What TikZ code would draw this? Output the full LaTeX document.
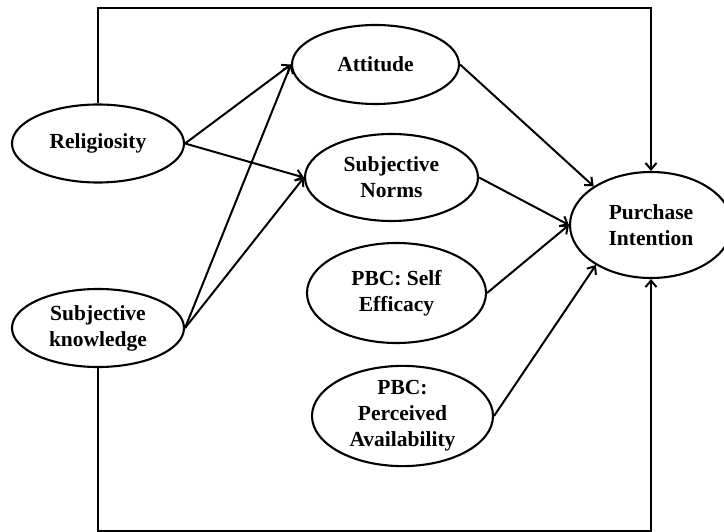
\documentclass[tikz,border=0pt]{standalone}
\usepackage{fontspec}
\setmainfont{Liberation Serif}
\usetikzlibrary{shapes.geometric,arrows.meta}
\begin{document}
\begin{tikzpicture}[x=1pt,y=-1pt,
  ell/.style={draw, ellipse, line width=2.1pt, inner sep=0pt, align=center,
    font=\fontsize{21.5}{26}\selectfont\bfseries},
  arr/.style={line width=2pt, -{Straight Barb[length=6.5pt,width=11pt,line width=2pt]}}]
\useasboundingbox (0,0) rectangle (724,532);
\node[ell, minimum width=172pt, minimum height=78pt] (rel) at (98,143.5) {Religiosity};
\node[ell, minimum width=172pt, minimum height=78pt] (sk) at (98,328) {Subjective\\knowledge};
\node[ell, minimum width=167pt, minimum height=79pt] (att) at (375.5,64.5) {Attitude};
\node[ell, minimum width=173pt, minimum height=87pt] (sn) at (391.5,177.5) {Subjective\\Norms};
\node[ell, minimum width=179pt, minimum height=100pt] (se) at (396.5,293) {PBC: Self\\Efficacy};
\node[ell, minimum width=181pt, minimum height=98pt] (pa) at (402.5,416) {PBC:\\Perceived\\Availability};
\node[ell, minimum width=162pt, minimum height=106pt] (pi) at (651,225) {Purchase\\Intention};
\coordinate (tl) at (98,8);
\coordinate (tr) at (651,8);
\coordinate (bl) at (98,530.5);
\coordinate (br) at (651,530.5);
\draw[arr] (rel.east) -- (att.west);
\draw[arr] (rel.east) -- (sn.west);
\draw[arr] (sk.east) -- (att.west);
\draw[arr] (sk.east) -- (sn.west);
\draw[arr] (att.east) -- (pi.146);
\draw[arr] (sn.east) -- (pi.west);
\draw[arr] (se.east) -- (pi.west);
\draw[arr] (pa.east) -- (pi.216);
\draw[arr, line join=miter] (rel.north) -- (tl) -- (tr) -- (pi.north);
\draw[arr, line join=miter] (sk.south) -- (bl) -- (br) -- (pi.south);
\end{tikzpicture}
\end{document}
